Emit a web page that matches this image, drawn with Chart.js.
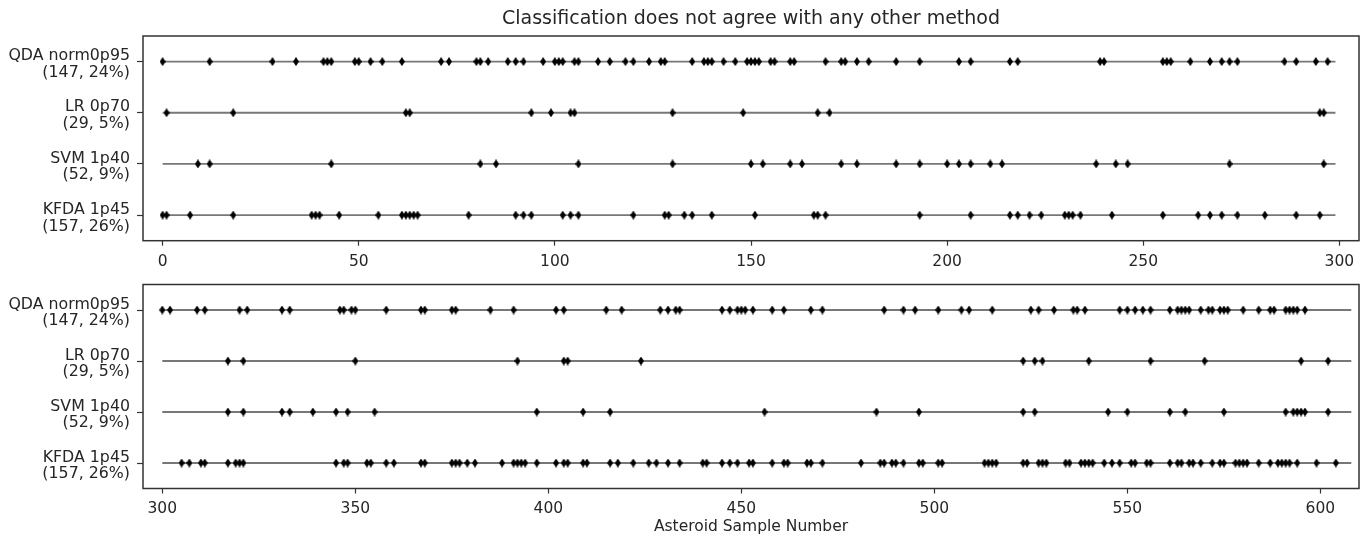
<!DOCTYPE html>
<html>
<head>
<meta charset="utf-8">
<title>Classification does not agree with any other method</title>
<script src="https://cdn.jsdelivr.net/npm/chart.js@4"></script>
<style>
    body { margin: 0; background: #fff; }
    .panel { position: absolute; left: 0; width: 1368px; }
    #topPanel { top: 0; height: 270px; }
    #bottomPanel { top: 270px; height: 267px; }
</style>
</head>
<body>
<div class="panel" id="topPanel"><canvas id="topChart"></canvas></div>
<div class="panel" id="bottomPanel"><canvas id="bottomChart"></canvas></div>
<script>
// Methods shown on the y axis, top to bottom
const methodNames = ['QDA norm0p95', 'LR 0p70', 'SVM 1p40', 'KFDA 1p45'];
const methodCounts = ['(147, 24%)', '(29, 5%)', '(52, 9%)', '(157, 26%)'];

// Sample numbers where each method disagrees with all the others
const qdaSamples = [
    0, 12, 28, 34, 41, 42, 43, 49, 50, 53, 56, 61, 71, 73, 80, 81, 83, 88, 90, 92,
    97, 100, 101, 102, 105, 106, 111, 114, 118, 120, 124, 127, 128, 135, 138, 139, 140, 143, 146, 149,
    150, 151, 152, 155, 156, 160, 161, 169, 173, 174, 177, 180, 187, 193, 203, 206, 216, 218, 239, 240,
    255, 256, 257, 262, 267, 270, 272, 274, 286, 289, 294, 297,
    300, 302, 309, 311, 320, 322, 331, 333, 346, 347, 349, 350, 358, 367, 368, 375, 376, 385, 391, 402,
    404, 415, 419, 429, 431, 433, 434, 445, 447, 449, 450, 451, 453, 458, 461, 468, 471, 487, 492, 495,
    501, 507, 509, 515, 525, 527, 531, 536, 537, 539, 548, 550, 552, 554, 556, 561, 563, 564, 565, 566,
    569, 571, 572, 574, 575, 576, 580, 584, 587, 588, 591, 592, 593, 594, 596
];
const lrSamples = [
    1, 18, 62, 63, 94, 99, 104, 105, 130, 148, 167, 170, 295, 296,
    317, 321, 350, 392, 404, 405, 424, 523, 526, 528, 540, 556, 570, 595, 602
];
const svmSamples = [
    9, 12, 43, 81, 85, 106, 130, 150, 153, 160, 163, 173, 177, 187, 193, 200, 203, 206, 211, 214,
    238, 243, 246, 272, 296,
    317, 321, 331, 333, 339, 345, 348, 355, 397, 409, 416, 456, 485, 496, 523, 526, 545, 550, 561, 565,
    575, 591, 593, 594, 595, 596, 602
];
const kfdaSamples = [
    0, 1, 7, 18, 38, 39, 40, 45, 55, 61, 62, 63, 64, 65, 78, 90, 92, 94, 102, 104,
    106, 120, 128, 129, 133, 135, 140, 151, 166, 167, 169, 193, 206, 216, 218, 221, 224, 230, 231, 232,
    234, 242, 255, 264, 267, 270, 274, 281, 289, 295,
    305, 307, 310, 311, 317, 319, 320, 321, 345, 347, 348, 353, 354, 358, 360, 367, 368, 375, 376, 377,
    379, 381, 388, 391, 392, 393, 394, 397, 402, 404, 405, 409, 410, 416, 418, 422, 426, 428, 431, 434,
    440, 441, 445, 447, 449, 452, 453, 458, 461, 462, 467, 468, 471, 481, 486, 487, 489, 490, 492, 496,
    497, 501, 502, 513, 514, 515, 516, 523, 524, 527, 528, 529, 534, 535, 538, 539, 540, 541, 544, 546,
    548, 551, 552, 555, 556, 561, 563, 564, 566, 567, 569, 572, 574, 575, 578, 579, 580, 581, 584, 587,
    589, 590, 591, 592, 594, 599, 604
];

// Each panel covers one half of the 609 samples
const panelFirst = [0, 300];
const panelLast = [299, 608];
const panelMin = [-5, 295];
const panelMax = [305, 610];
const topTicks = [0, 50, 100, 150, 200, 250, 300];
const bottomTicks = [300, 350, 400, 450, 500, 550, 600];

const chartTitle = 'Classification does not agree with any other method';
const xAxisTitle = 'Asteroid Sample Number';

Chart.defaults.font.family = "'DejaVu Sans', sans-serif";
Chart.defaults.color = '#262626';

// thin diamond marker like matplotlib's 'd'
function makeDiamond(w, h) {
    const c = document.createElement('canvas');
    c.width = w;
    c.height = h;
    const g = c.getContext('2d');
    g.fillStyle = '#000';
    g.beginPath();
    g.moveTo(w / 2, 0);
    g.lineTo(w, h / 2);
    g.lineTo(w / 2, h);
    g.lineTo(0, h / 2);
    g.closePath();
    g.fill();
    return c;
}
const diamond = makeDiamond(6, 9);

// box around the plot area (all four spines)
const framePlugin = {
    id: 'frame',
    afterDatasetsDraw(chart) {
        const { ctx, chartArea: a } = chart;
        ctx.save();
        ctx.strokeStyle = '#333';
        ctx.lineWidth = 1.5;
        ctx.strokeRect(a.left, a.top, a.right - a.left, a.bottom - a.top);
        ctx.restore();
    }
};

// title centred over the plot area, like an axes title
const plotTitlePlugin = {
    id: 'plotTitle',
    afterDraw(chart, args, opts) {
        if (!opts.text) return;
        const { ctx, chartArea: a } = chart;
        ctx.save();
        ctx.font = "19px 'DejaVu Sans', sans-serif";
        ctx.fillStyle = '#262626';
        ctx.textAlign = 'center';
        ctx.textBaseline = 'middle';
        ctx.fillText(opts.text, (a.left + a.right) / 2, a.top - 17);
        ctx.restore();
    }
};

function panelDatasets(p) {
    const sets = [];
    [qdaSamples, lrSamples, svmSamples, kfdaSamples].forEach((samples, row) => {
        sets.push({
            data: samples
                .filter(s => s >= panelFirst[p] && s <= panelLast[p])
                .map(s => ({ x: s, y: row })),
            pointStyle: diamond,
            pointRadius: 4,
            showLine: false,
            order: 0
        });
        sets.push({
            data: [{ x: panelFirst[p], y: row }, { x: panelLast[p], y: row }],
            showLine: true,
            borderColor: '#777',
            borderWidth: 1.8,
            pointRadius: 0,
            order: 1
        });
    });
    return sets;
}

function makePanel(canvasId, p, tickValues, opts) {
    const ctx = document.getElementById(canvasId).getContext('2d');
    return new Chart(ctx, {
        type: 'scatter',
        data: { datasets: panelDatasets(p) },
        options: {
            responsive: true,
            maintainAspectRatio: false,
            animation: false,
            events: [],
            layout: { padding: { left: 0, right: 9, top: opts.padTop, bottom: 0 } },
            plugins: {
                legend: { display: false },
                tooltip: { enabled: false },
                plotTitle: { text: opts.title }
            },
            scales: {
                x: {
                    type: 'linear',
                    min: panelMin[p],
                    max: panelMax[p],
                    afterBuildTicks: s => { s.ticks = tickValues.map(v => ({ value: v })); },
                    afterFit: s => { s.height = opts.xHeight; },
                    ticks: { font: { size: 15.5 }, padding: 6.5, maxRotation: 0, autoSkip: false },
                    grid: { drawOnChartArea: false, tickLength: 5, color: '#333', tickWidth: 1.2 },
                    border: { display: false },
                    title: opts.xTitle
                },
                y: {
                    type: 'linear',
                    min: -0.5,
                    max: 3.5,
                    reverse: true,
                    afterBuildTicks: s => { s.ticks = methodNames.map((_, i) => ({ value: i })); },
                    afterFit: s => {
                        s.width = 143;
                        s.paddingTop = 0;
                        s.paddingBottom = 0;
                    },
                    ticks: {
                        callback: v => [methodNames[v], methodCounts[v]],
                        font: { size: 15.8, lineHeight: 1.06 },
                        padding: 7,
                        labelOffset: 3
                    },
                    grid: { drawOnChartArea: false, tickLength: 6, color: '#333', tickWidth: 1.2 },
                    border: { display: false }
                }
            }
        },
        plugins: [framePlugin, plotTitlePlugin]
    });
}

makePanel('topChart', 0, topTicks, {
    padTop: 36,
    xHeight: 29.3,
    title: chartTitle,
    xTitle: { display: false }
});

makePanel('bottomChart', 1, bottomTicks, {
    padTop: 14.5,
    xHeight: 48.5,
    title: '',
    xTitle: {
        display: true,
        text: xAxisTitle,
        font: { size: 15.5 },
        padding: { top: 0, bottom: 1 }
    }
});
</script>
</body>
</html>
